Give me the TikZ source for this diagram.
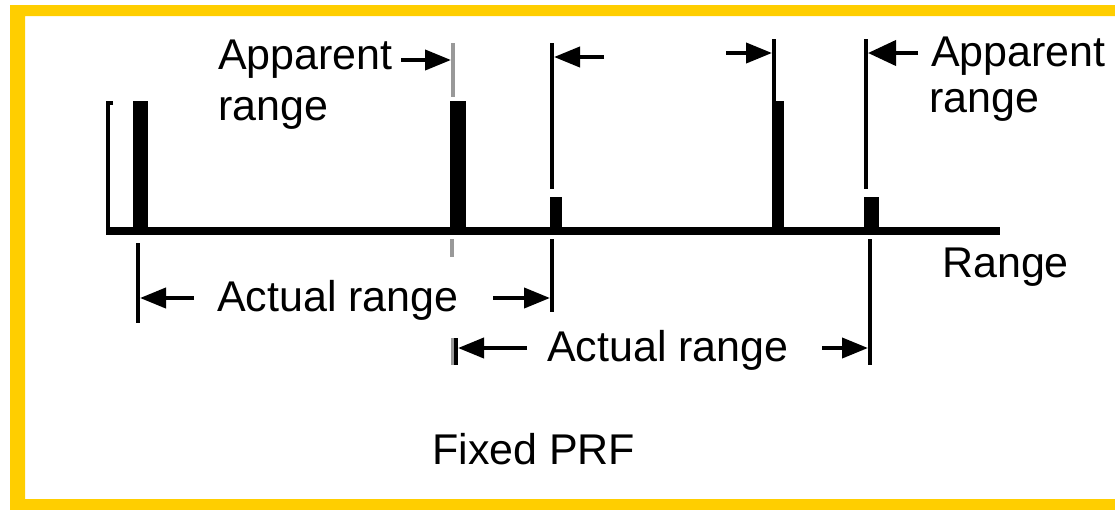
\documentclass[tikz,border=0pt]{standalone}
\usepackage{fontspec}
\setmainfont{Liberation Sans}
\usetikzlibrary{arrows.meta}
\definecolor{frameyellow}{RGB}{255,206,0}
\begin{document}
\begin{tikzpicture}[x=1pt,y=-1pt,
  lbl/.style={inner sep=0pt, anchor=base west, font=\fontsize{43}{48}\selectfont},
  pulse/.style={fill=black},
  refline/.style={line width=4pt},
  faintline/.style={line width=3.5pt, black!40},
  dimarrow/.style={line width=4pt, -{Triangle[length=26pt,width=20pt]}},
  bigarrow/.style={line width=4pt, -{Triangle[length=28pt,width=25pt]}},
]
\useasboundingbox (0,0) rectangle (1115,509);
\clip (0,0) rectangle (1115,509);
% yellow frame (right side runs off the picture)
\fill[frameyellow, even odd rule] (10,5) rectangle (1140,530) (25,16) rectangle (1130,499);

% axes
\draw[line width=8pt] (106,231) -- (1000,231);
\draw[line width=4pt] (113,103) -| (108,231);

% pulses
\fill[pulse] (133,101) rectangle (148,231);
\fill[pulse] (450,101) rectangle (466,231);
\fill[pulse] (550,197) rectangle (562,231);
\fill[pulse] (772,101) rectangle (784,231);
\fill[pulse] (864,197) rectangle (879,231);

% reference coordinates
\coordinate (r2top) at (453,43);   \coordinate (r2bot) at (453,97);
\coordinate (r2a) at (452,239);    \coordinate (r2b) at (452,257);
\coordinate (r3top) at (552,43);   \coordinate (r3bot) at (552,189);
\coordinate (r4top) at (774,39);   \coordinate (r4bot) at (774,101);
\coordinate (r5top) at (866,39);   \coordinate (r5bot) at (866,189);
\coordinate (d1a) at (138,243);    \coordinate (d1b) at (138,323);
\coordinate (d3a) at (552,239);    \coordinate (d3b) at (552,312);
\coordinate (d2a) at (456,338);    \coordinate (d2b) at (456,365);
\coordinate (d2ga) at (452,338);   \coordinate (d2gb) at (452,365);
\coordinate (d5a) at (870,239);    \coordinate (d5b) at (870,365);

% extension lines
\draw[faintline] (r2top) -- (r2bot);
\draw[faintline] (r2a) -- (r2b);
\draw[refline] (r3top) -- (r3bot);
\draw[refline] (r4top) -- (r4bot);
\draw[refline] (r5top) -- (r5bot);
\draw[refline] (d1a) -- (d1b);
\draw[refline] (d3a) -- (d3b);
\draw[faintline, line width=3pt] (d2ga) -- (d2gb);
\draw[refline] (d2a) -- (d2b);
\draw[refline] (d5a) -- (d5b);

% labels
\node[lbl] (appL1) at (218,69) {Apparent};
\node[lbl] (appL2) at (218,120) {range};
\node[lbl] (appR1) at (931,66) {Apparent};
\node[lbl] (appR2) at (929,112) {range};
\node[lbl] (rangeax) at (942,277) {Range};
\node[lbl] (act1) at (217,311) {Actual range};
\node[lbl] (act2) at (547,361) {Actual range};
\node[lbl] (fixed) at (432,464) {Fixed PRF};

% arrow end points
\coordinate (a1s) at (194,298); \coordinate (a1e) at (140,298);
\coordinate (a2s) at (493,298); \coordinate (a2e) at (550,298);
\coordinate (a3s) at (527,348); \coordinate (a3e) at (458,348);
\coordinate (a4s) at (822,348); \coordinate (a4e) at (868,348);
\coordinate (a5s) at (401,60);  \coordinate (a5e) at (451,60);
\coordinate (a6s) at (604,57);  \coordinate (a6e) at (554,57);
\coordinate (a7s) at (726,53);  \coordinate (a7e) at (772,53);
\coordinate (a8s) at (918,53);  \coordinate (a8e) at (868,53);

\draw[dimarrow] (a1s) -- (a1e);
\draw[dimarrow] (a2s) -- (a2e);
\draw[dimarrow] (a3s) -- (a3e);
\draw[dimarrow] (a4s) -- (a4e);
\draw[dimarrow] (a5s) -- (a5e);
\draw[dimarrow] (a6s) -- (a6e);
\draw[dimarrow] (a7s) -- (a7e);
\draw[bigarrow] (a8s) -- (a8e);
\end{tikzpicture}
\end{document}
